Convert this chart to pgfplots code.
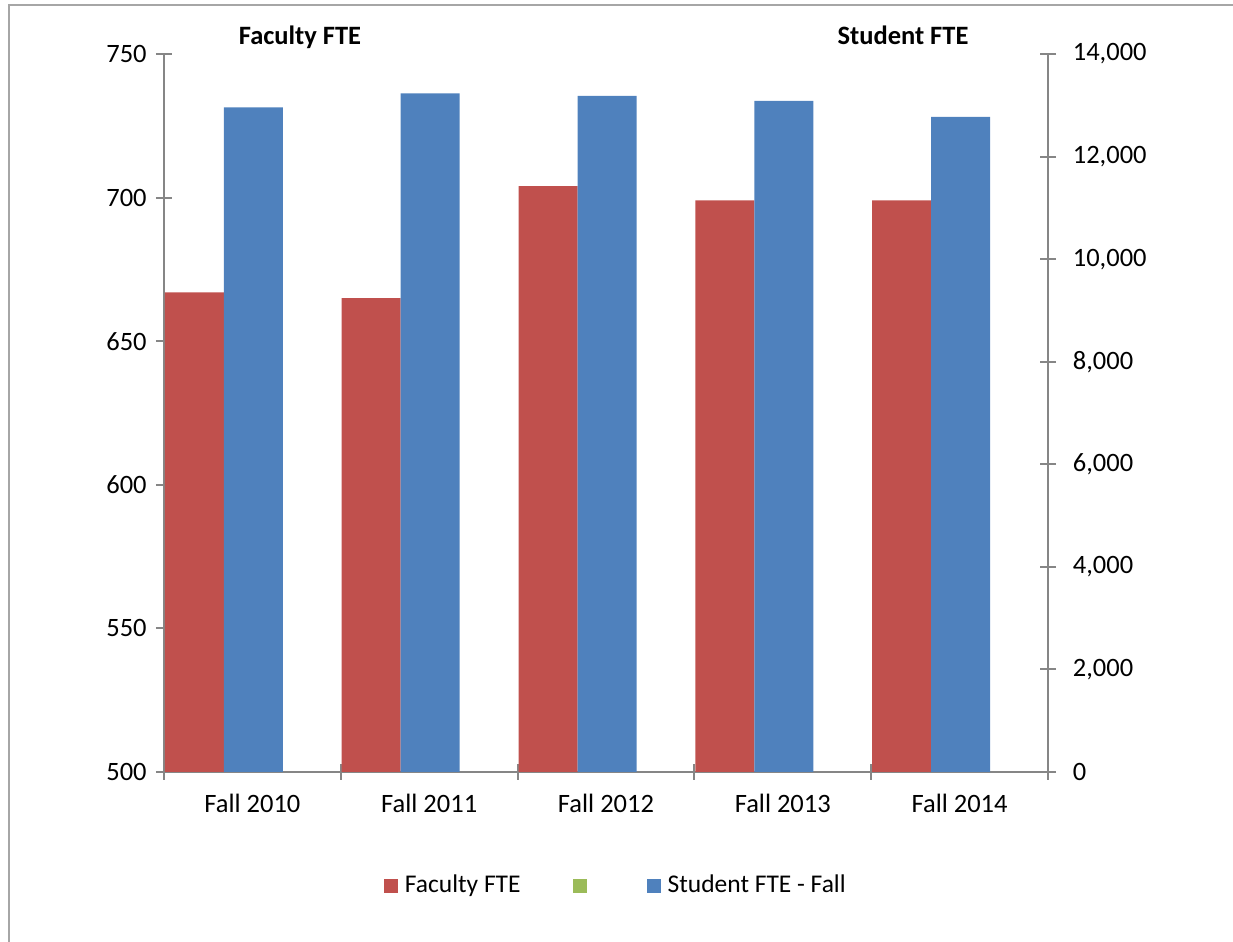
\documentclass[border=0pt]{standalone}
\usepackage{fontspec}
\setmainfont{Carlito}
\usepackage{pgfplots}
\pgfplotsset{compat=1.18}
\definecolor{facred}{RGB}{192,80,77}
\definecolor{stublue}{RGB}{79,129,189}
\definecolor{blankgreen}{RGB}{155,187,89}
\definecolor{axgray}{RGB}{134,134,134}
\newcommand\fs{\fontsize{10.6pt}{13pt}\selectfont}
\newcommand\lfs{\fontsize{10.2pt}{12.5pt}\selectfont}

% 1 px of the reference = 0.4pt
\pgfplotsset{
  chartaxis/.style={
    at={(65.6pt,68pt)}, anchor=south west,
    scale only axis, width=353.6pt, height=287.2pt,
    xmin=-0.5, xmax=4.5,
    ybar, bar width=23.6pt,
    axis line style={axgray, line width=0.8pt},
    tick style={axgray, line width=0.8pt},
    tick align=center, major tick length=6.4pt,
    tick label style={font=\fs},
    /pgf/number format/assume math mode=true,
  },
  sqlegend/.style={legend image code/.code={\fill[##1] (0pt,-2.8pt) rectangle (5.6pt,2.8pt);}},
}

\begin{document}
\fs
\begin{tikzpicture}
\useasboundingbox (0,0) rectangle (493.2pt,376.8pt);
\draw[gray!70, line width=1pt] (3.6pt,-2pt) -- (3.6pt,374.8pt) -- (496pt,374.8pt);

\begin{axis}[chartaxis,
  ymin=500, ymax=750, ytick={500,550,...,750},
  axis x line*=bottom, axis y line*=left,
  xtick={-0.5,0.5,...,4.5}, x tick label as interval,
  xticklabels={Fall 2010,Fall 2011,Fall 2012,Fall 2013,Fall 2014},
  xticklabel style={yshift=-2pt},
]
\addplot[fill=facred, draw=none, bar shift=-23.2pt]
  coordinates {(0,667) (1,665) (2,704) (3,699) (4,699)};
\end{axis}

\begin{axis}[chartaxis,
  ymin=0, ymax=14000, ytick={0,2000,...,14000}, scaled y ticks=false,
  yticklabel style={/pgf/number format/1000 sep={,}, xshift=3pt},
  axis x line=none, axis y line*=right,
  legend columns=-1,
  legend style={at={(0.5107,-0.1588)}, anchor=center, draw=none, font=\lfs,
    nodes={inner xsep=0.5pt},
    /tikz/every odd column/.append style={column sep=2.3pt},
    /tikz/every even column/.append style={column sep=20.5pt}},
]
\addlegendimage{sqlegend, fill=facred, draw=none}
\addlegendentry{Faculty FTE}
\addlegendimage{sqlegend, fill=blankgreen, draw=none}
\addlegendentry{\mbox{}}
\addplot[fill=stublue, draw=none, bar shift=0.4pt, sqlegend]
  coordinates {(0,12960) (1,13233) (2,13181) (3,13084) (4,12772)};
\addlegendentry{Student FTE - Fall}
\end{axis}

\node[font=\bfseries\fs, anchor=base] at (120pt,358.8pt) {Faculty FTE};
\node[font=\bfseries\fs, anchor=base] at (361.2pt,358.8pt) {Student FTE};
\end{tikzpicture}
\end{document}
